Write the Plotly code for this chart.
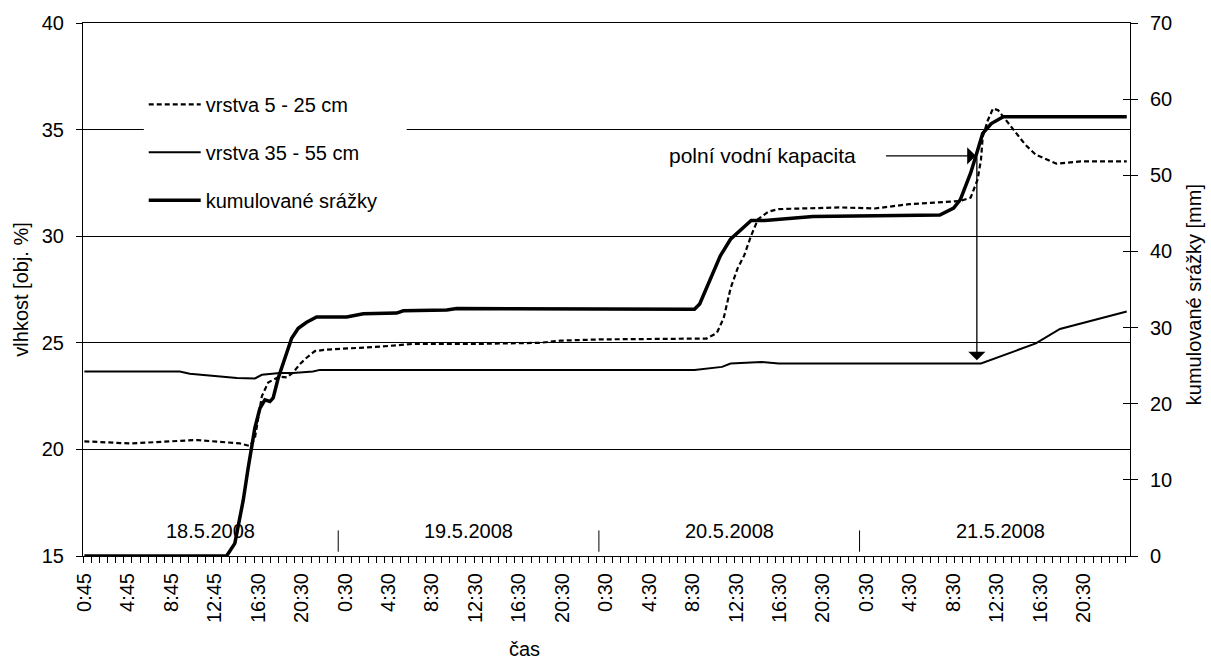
import plotly.graph_objects as go

# ---- data (x = axis position in hours from the left edge; category axis of 15-min readings) ----
tick_text = ["0:45", "4:45", "8:45", "12:45", "16:30", "20:30",
             "0:30", "4:30", "8:30", "12:30", "16:30", "20:30",
             "0:30", "4:30", "8:30", "12:30", "16:30", "20:30",
             "0:30", "4:30", "8:30", "12:30", "16:30", "20:30"]
day_labels = ["18.5.2008", "19.5.2008", "20.5.2008", "21.5.2008"]
day_bounds = [23.5, 47.5, 71.5]
day_centers = [11.75, 35.5, 59.5, 84.5]

# vrstva 5 - 25 cm  (vlhkost, obj. %)
x_b = [0.125, 4.30, 10.45, 14.44, 15.36, 15.82, 16.47, 17.05, 18.06, 18.75, 19.35, 19.97, 20.59,
       21.35, 22.43, 27.35, 30.41, 36.56, 42.09, 43.93, 47.62, 57.41, 58.36, 58.99, 59.62, 60.26,
       60.88, 61.52, 62.15, 63.10, 64.05, 69.73, 72.89, 76.05, 79.21, 80.78, 81.73, 82.37, 82.68,
       82.84, 83.32, 83.79, 84.26, 85.21, 86.78, 87.73, 89.63, 91.84, 96.1]
v_b = [20.38, 20.28, 20.44, 20.28, 20.16, 20.5, 22.5, 23.14, 23.41, 23.38, 23.61, 24.0, 24.3,
       24.61, 24.68, 24.82, 24.95, 24.95, 25.0, 25.1, 25.16, 25.2, 25.46, 26.16, 27.55, 28.48,
       29.1, 30.03, 30.8, 31.15, 31.27, 31.35, 31.3, 31.5, 31.6, 31.65, 31.81, 32.66, 33.59,
       34.67, 35.45, 35.99, 35.91, 35.29, 34.28, 33.82, 33.4, 33.51, 33.51]

# vrstva 35 - 55 cm
x_a = [0.125, 8.91, 9.83, 14.17, 15.83, 16.47, 18.13, 19.33, 21.17, 21.81, 36.56, 47.62, 56.30,
       58.84, 59.62, 62.47, 64.05, 82.68, 87.73, 89.95, 92.47, 95.79, 96.1]
v_a = [23.65, 23.65, 23.55, 23.35, 23.33, 23.5, 23.58, 23.58, 23.65, 23.73, 23.73, 23.72, 23.72,
       23.87, 24.03, 24.1, 24.03, 24.03, 24.97, 25.65, 26.0, 26.44, 26.47]

# kumulované srážky [mm]
x_c = [0.125, 13.06, 13.22, 13.98, 14.75, 15.21, 15.52, 15.82, 16.29, 16.75, 17.21, 17.51, 17.97,
       18.59, 19.21, 19.82, 20.59, 21.51, 24.28, 25.81, 28.88, 29.49, 33.49, 34.41, 36.56, 47.62,
       56.30, 56.78, 57.73, 58.67, 59.62, 60.57, 61.52, 62.78, 67.21, 78.89, 80.16, 80.78, 81.73,
       82.37, 82.84, 83.63, 84.74, 96.1]
c = [0, 0, 0, 1.65, 7.3, 11.6, 14.2, 16.8, 19.4, 20.5, 20.3, 20.75, 23.35, 25.96, 28.6, 29.9,
     30.7, 31.4, 31.4, 31.8, 31.9, 32.2, 32.3, 32.5, 32.5, 32.4, 32.4, 33.1, 36.4, 39.4, 41.6,
     42.9, 44.07, 44.07, 44.6, 44.77, 45.7, 46.8, 50.3, 53.3, 55.5, 56.8, 57.7, 57.7]

# annotation: polní vodní kapacita
fc_level = 33.77
fc_x = 82.3
fc_text_x = 53.8
fc_arrow_tail_x = 73.8
fc_target = 24.18

FONT = "Liberation Sans, Arial, sans-serif"
x_range = [0, 96.4]
tick_vals = [0.125 + 4 * k for k in range(len(tick_text))]

fig = go.Figure()
fig.add_trace(go.Scatter(x=x_b, y=v_b, mode="lines", name="vrstva 5 - 25 cm",
                         legendgroup="a",
                         line=dict(color="black", width=2.2, dash="5px,3px")))
fig.add_trace(go.Scatter(x=x_a, y=v_a, mode="lines", name="vrstva 35 - 55 cm",
                         legendgroup="b",
                         line=dict(color="black", width=2)))
fig.add_trace(go.Scatter(x=x_c, y=c, mode="lines", name="kumulované srážky",
                         legendgroup="c", yaxis="y2",
                         line=dict(color="black", width=3.5)))

ann = [
    dict(text="polní vodní kapacita", x=fc_text_x, y=fc_level, xref="x", yref="y",
         xanchor="left", yanchor="middle", showarrow=False, font=dict(size=21)),
    dict(text="", x=fc_x - 0.1, y=fc_level, ax=fc_arrow_tail_x, ay=fc_level,
         xref="x", yref="y", axref="x", ayref="y", showarrow=True,
         arrowhead=1, arrowsize=2.2, arrowwidth=1.3, arrowcolor="black"),
    dict(text="", x=fc_x, y=fc_target, ax=fc_x, ay=fc_level,
         xref="x", yref="y", axref="x", ayref="y", showarrow=True,
         arrowhead=1, arrowsize=2.2, arrowwidth=1.3, arrowcolor="black"),
    dict(text="vlhkost [obj. %]", x=-0.06, y=0.5, xref="paper", yref="paper",
         textangle=-90, showarrow=False, font=dict(size=20), xanchor="center", yanchor="middle"),
    dict(text="kumulované srážky [mm]", x=1.0605, y=0.49, xref="paper", yref="paper",
         textangle=-90, showarrow=False, font=dict(size=20), xanchor="center", yanchor="middle"),
    dict(text="čas", x=0.422, y=-0.175, xref="paper", yref="paper",
         showarrow=False, font=dict(size=20), xanchor="center", yanchor="middle"),
]
for lab, xc in zip(day_labels, day_centers):
    ann.append(dict(text=lab, x=xc, y=0.047, xref="x", yref="paper", showarrow=False,
                    xanchor="center", yanchor="middle", font=dict(size=20)))

shapes = [dict(type="line", x0=b, x1=b, y0=0.008, y1=0.048, xref="x", yref="paper",
               line=dict(color="black", width=1)) for b in day_bounds]
# white background of the legend box (covers the grid line behind it)
shapes.append(dict(type="rect", xref="x", yref="y", x0=5.6, x1=29.8,
                   y0=31.0, y1=36.9, fillcolor="white", line=dict(width=0),
                   layer="between"))

fig.update_layout(
    width=1211, height=661,
    margin=dict(l=83, r=81, t=19, b=105),
    paper_bgcolor="white", plot_bgcolor="white",
    font=dict(family=FONT, size=20, color="black"),
    showlegend=True,
    legend=dict(x=0.058, y=0.884, xanchor="left", yanchor="top", bgcolor="white",
                borderwidth=0, font=dict(size=20), traceorder="grouped",
                tracegroupgap=19, itemwidth=52),
    xaxis=dict(range=x_range, tickmode="array", tickvals=tick_vals, ticktext=tick_text,
               tickangle=-90, ticks="", showgrid=False, zeroline=False,
               showline=True, linecolor="black", linewidth=1, mirror=True,
               ticklabelstandoff=8, tickfont=dict(size=20),
               minor=dict(ticks="outside", ticklen=6, tickcolor="black", tickwidth=1,
                          tickmode="linear", tick0=0, dtick=0.75, showgrid=False)),
    yaxis=dict(range=[15, 40], dtick=5, tick0=15, ticks="outside", ticklen=6,
               tickcolor="black", showline=True, linecolor="black", linewidth=1,
               showgrid=True, gridcolor="black", gridwidth=1, zeroline=False,
               ticklabelstandoff=8, tickfont=dict(size=20)),
    yaxis2=dict(range=[0, 70], dtick=10, overlaying="y", side="right", ticks="outside",
                ticklen=7, tickcolor="black", showline=True, linecolor="black", linewidth=1,
                showgrid=False, zeroline=False, ticklabelstandoff=8, tickfont=dict(size=20)),
    yaxis3=dict(range=[0, 70], dtick=10, overlaying="y", side="right", ticks="inside",
                ticklen=7, tickcolor="black", showline=False, showgrid=False,
                zeroline=False, showticklabels=False),
    annotations=ann,
    shapes=shapes,
)
fig.add_trace(go.Scatter(x=[], y=[], yaxis="y3", showlegend=False, hoverinfo="skip"))

fig.write_html("out.html")
